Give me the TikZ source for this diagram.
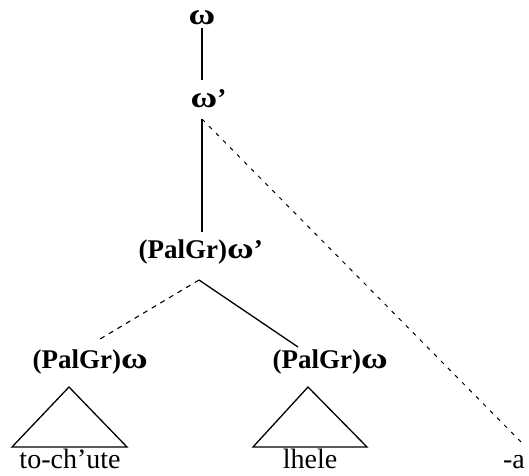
\documentclass[tikz,border=0pt]{standalone}
\usepackage{fontspec}
\usepackage{graphicx}
\setmainfont{Liberation Serif}
\newcommand{\wom}{\scalebox{1.35}[1.1]{ω}}
\begin{document}
\begin{tikzpicture}[x=1pt,y=-1pt,line width=1.3pt,
  cat/.style={font=\bfseries\fontsize{27}{30}\selectfont,inner sep=0pt},
  word/.style={font=\fontsize{28}{30}\selectfont,inner sep=0pt,anchor=base},
  dsh/.style={dash pattern=on 5pt off 5pt,line width=1.1pt}]
\useasboundingbox (0,0) rectangle (529,475);
% labels
\node[cat] (w) at (202,18) {\wom};
\node[cat,anchor=base west] (wp) at (190,107) {\wom’};
\node[cat,anchor=base west] (pg) at (138,258) {(PalGr)\wom’};
\node[cat,anchor=base west] (pgl) at (32,368) {(PalGr)\wom};
\node[cat,anchor=base west] (pgr) at (272,368) {(PalGr)\wom};
\node[word] (tochute) at (70,468) {to-ch’ute};
\node[word] (lhele) at (310,468) {lhele};
\node[word] (suff) at (514,468) {-a};
% branch points
\coordinate (wbot) at (202,28);
\coordinate (wptop) at (202,80);
\coordinate (wpfoot) at (202,119);
\coordinate (pgtop) at (202,232);
\coordinate (pgfoot) at (199,280);
\coordinate (pgltop) at (100,339);
\coordinate (pgrtop) at (298,347);
\coordinate (suffend) at (525,446);
\draw (wbot) -- (wptop);
\draw (wpfoot) -- (pgtop);
\draw[dash pattern=on 4pt off 6pt,line width=1pt] (wpfoot) -- (suffend);
\draw[dsh] (pgfoot) -- (pgltop);
\draw (pgfoot) -- (pgrtop);
% triangles
\coordinate (la) at (69,387);
\coordinate (ll) at (12,447);
\coordinate (lr) at (127,447);
\coordinate (ra) at (308,387);
\coordinate (rl) at (253,447);
\coordinate (rr) at (367,447);
\draw (la) -- (ll) -- (lr) -- cycle;
\draw (ra) -- (rl) -- (rr) -- cycle;
\end{tikzpicture}
\end{document}
